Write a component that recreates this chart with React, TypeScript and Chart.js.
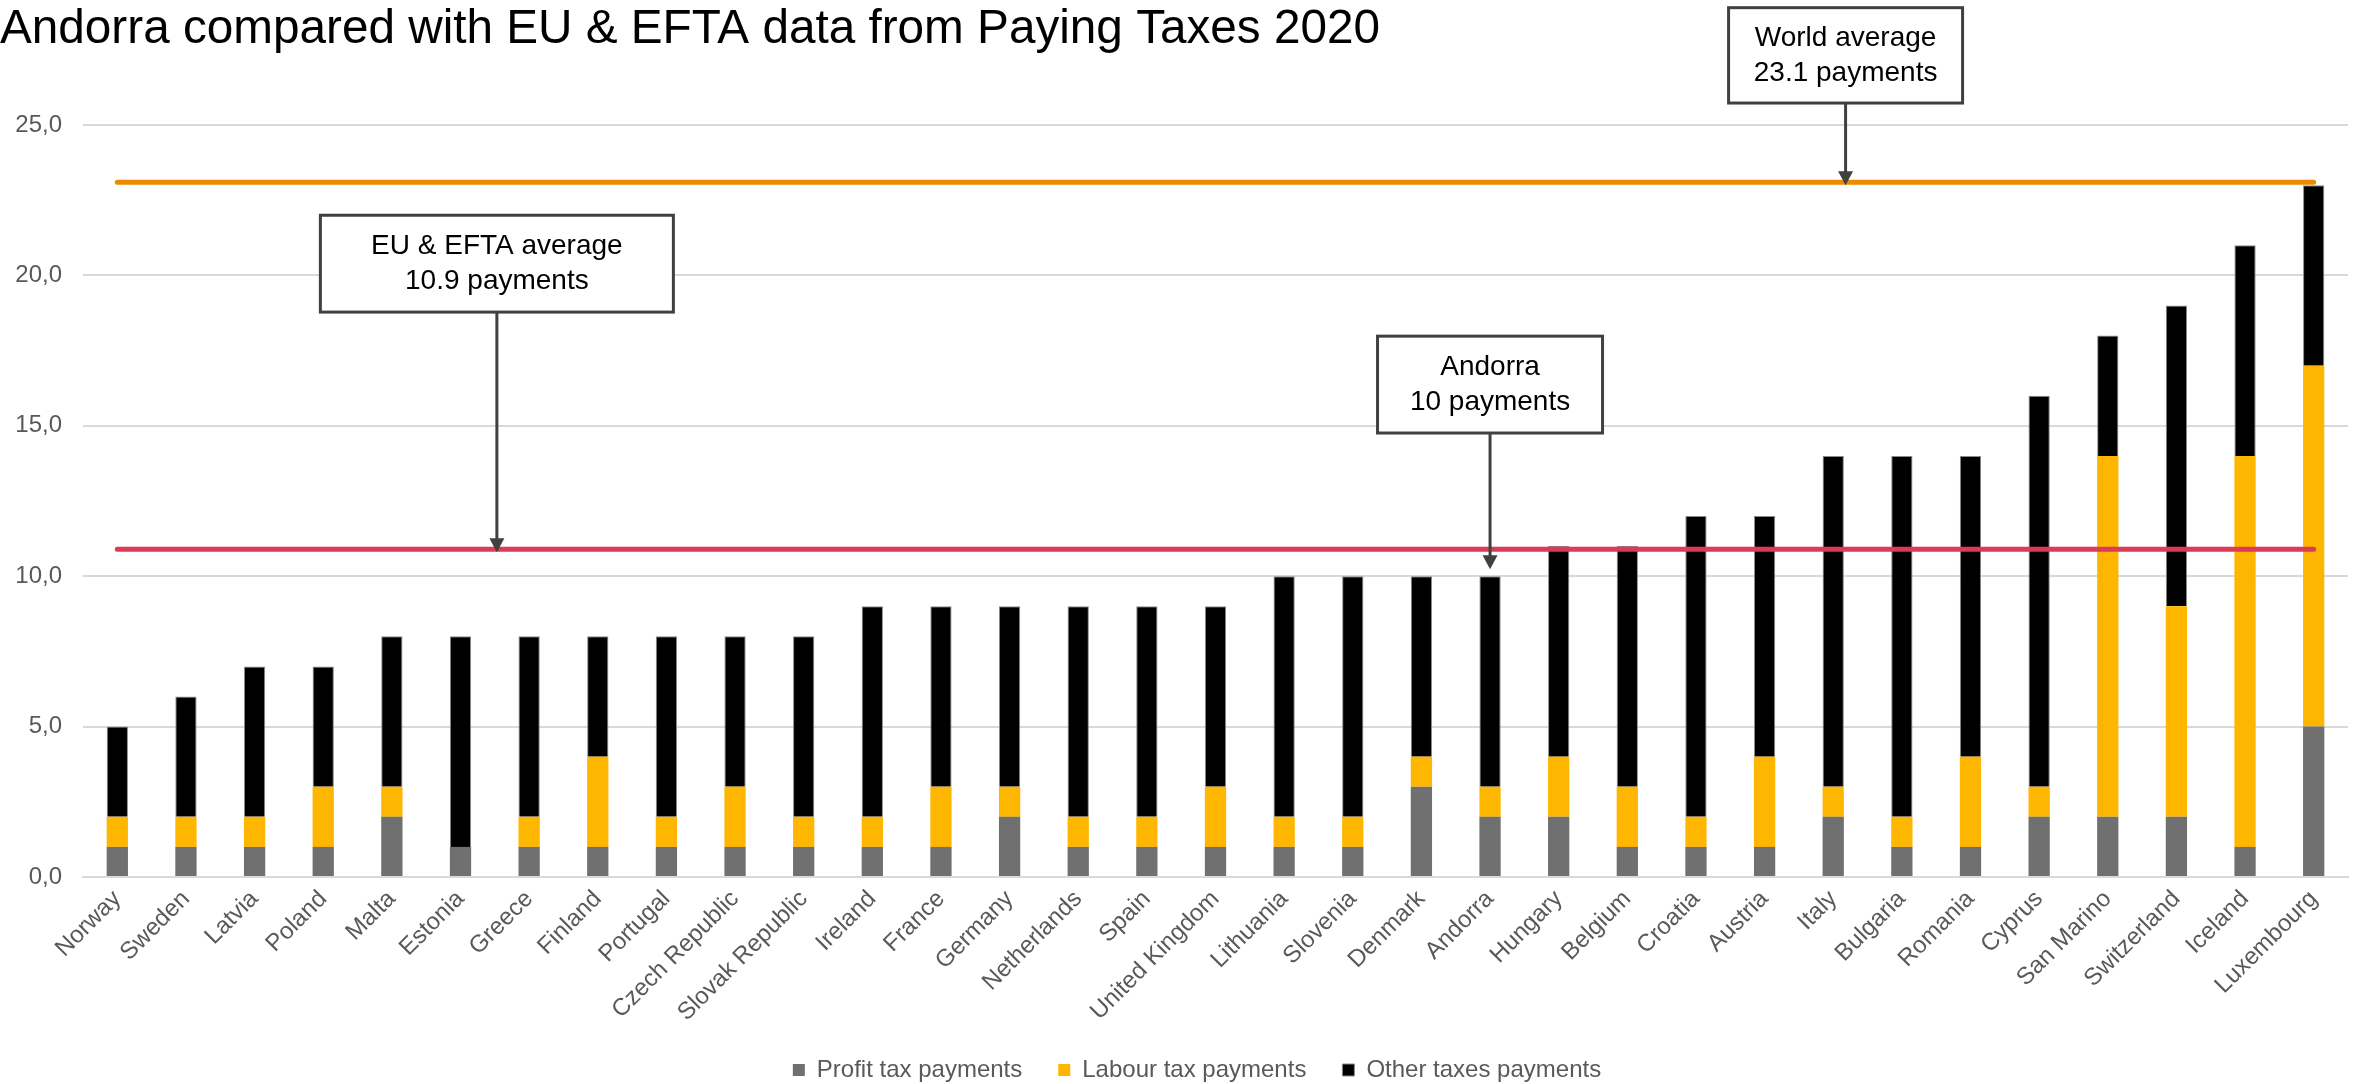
import React, { useEffect, useRef } from 'react';
import { Chart, registerables } from 'chart.js';

Chart.register(...registerables);

const TITLE = 'Andorra compared with EU & EFTA data from Paying Taxes 2020';

const countries = [
  'Norway', 'Sweden', 'Latvia', 'Poland', 'Malta', 'Estonia', 'Greece', 'Finland',
  'Portugal', 'Czech Republic', 'Slovak Republic', 'Ireland', 'France', 'Germany',
  'Netherlands', 'Spain', 'United Kingdom', 'Lithuania', 'Slovenia', 'Denmark',
  'Andorra', 'Hungary', 'Belgium', 'Croatia', 'Austria', 'Italy', 'Bulgaria',
  'Romania', 'Cyprus', 'San Marino', 'Switzerland', 'Iceland', 'Luxembourg',
];

const profitTax = [1, 1, 1, 1, 2, 1, 1, 1, 1, 1, 1, 1, 1, 2, 1, 1, 1, 1, 1, 3, 2, 2, 1, 1, 1, 2, 1, 1, 2, 2, 2, 1, 5];
const labourTax = [1, 1, 1, 2, 1, 0, 1, 3, 1, 2, 1, 1, 2, 1, 1, 1, 2, 1, 1, 1, 1, 2, 2, 1, 3, 1, 1, 3, 1, 12, 7, 13, 12];
const otherTaxes = [3, 4, 5, 4, 5, 7, 6, 4, 6, 5, 6, 7, 6, 6, 7, 7, 6, 8, 8, 6, 7, 7, 8, 10, 8, 11, 12, 10, 13, 4, 10, 7, 6];

const yMax = 25;
const yStep = 5;

const worldAverage = 23.1;
const euEftaAverage = 10.9;
const andorraPayments = 10;

const FONT = '"Liberation Sans", Arial, Helvetica, sans-serif';
const TEXT_GREY = '#595959';
const GRID_GREY = '#d9d9d9';

const referenceLines = [
  { value: worldAverage, color: '#eb8c00' },
  { value: euEftaAverage, color: '#db3a58' },
];

// Callout boxes: anchor along the category axis, box extent in value units,
// arrow tip offset in pixels above the target value.
const callouts = [
  {
    lines: ['EU & EFTA average', `${euEftaAverage} payments`],
    at: 5.53, tip: euEftaAverage, tipGap: -3, top: 22.0, bottom: 18.78, width: 353,
  },
  {
    lines: ['Andorra', `${andorraPayments} payments`],
    at: countries.indexOf('Andorra'), tip: andorraPayments, tipGap: 7, top: 17.98, bottom: 14.76, width: 225,
  },
  {
    lines: ['World average', `${worldAverage} payments`],
    at: 25.18, tip: worldAverage, tipGap: -3, top: 28.9, bottom: 25.73, width: 234,
  },
];

const titlePlugin = {
  id: 'plainTitle',
  beforeDraw(chart: any) {
    const { ctx } = chart;
    ctx.save();
    ctx.font = `47.7px ${FONT}`;
    ctx.fillStyle = '#000000';
    ctx.textAlign = 'left';
    ctx.textBaseline = 'alphabetic';
    ctx.fillText(TITLE, 0, 43);
    ctx.restore();
  },
};

// Nudge the legend row so it sits centred under the plot as in the layout.
const legendOffsetPlugin = {
  id: 'legendOffset',
  afterLayout(chart: any) {
    const lg = chart.legend;
    if (lg) {
      lg.left += 23;
      lg.right += 23;
    }
  },
};

const referencePlugin = {
  id: 'referenceCallouts',
  afterDatasetsDraw(chart: any) {
    const { ctx } = chart;
    const x = chart.scales.x;
    const y = chart.scales.y;
    const xStart = x.getPixelForValue(0);
    const xEnd = x.getPixelForValue(countries.length - 1);

    ctx.save();
    ctx.lineCap = 'round';
    ctx.lineWidth = 5;
    for (const ref of referenceLines) {
      const py = y.getPixelForValue(ref.value);
      ctx.strokeStyle = ref.color;
      ctx.beginPath();
      ctx.moveTo(xStart, py);
      ctx.lineTo(xEnd, py);
      ctx.stroke();
    }
    ctx.restore();
  },
  afterDraw(chart: any) {
    const { ctx } = chart;
    const x = chart.scales.x;
    const y = chart.scales.y;
    ctx.save();
    for (const c of callouts) {
      const cx = x.getPixelForValue(c.at);
      const top = y.getPixelForValue(c.top);
      const bottom = y.getPixelForValue(c.bottom);
      const tipY = y.getPixelForValue(c.tip) - c.tipGap;
      const head = 14;

      // arrow
      ctx.strokeStyle = '#404040';
      ctx.fillStyle = '#404040';
      ctx.lineWidth = 3;
      ctx.lineCap = 'butt';
      ctx.beginPath();
      ctx.moveTo(cx, bottom);
      ctx.lineTo(cx, tipY - head + 1);
      ctx.stroke();
      ctx.beginPath();
      ctx.moveTo(cx - 7.5, tipY - head);
      ctx.lineTo(cx + 7.5, tipY - head);
      ctx.lineTo(cx, tipY);
      ctx.closePath();
      ctx.fill();

      // box
      const left = cx - c.width / 2;
      ctx.fillStyle = '#ffffff';
      ctx.fillRect(left, top, c.width, bottom - top);
      ctx.lineWidth = 3;
      ctx.strokeStyle = '#404040';
      ctx.strokeRect(left, top, c.width, bottom - top);

      // text
      ctx.fillStyle = '#000000';
      ctx.font = `28px ${FONT}`;
      ctx.textAlign = 'center';
      ctx.textBaseline = 'middle';
      const mid = (top + bottom) / 2;
      const lh = 35;
      c.lines.forEach((t, i) => {
        ctx.fillText(t, cx, mid + (i - (c.lines.length - 1) / 2) * lh);
      });
    }
    ctx.restore();
  },
};

export default function App() {
  const canvasRef = useRef<HTMLCanvasElement | null>(null);

  useEffect(() => {
    const canvas = canvasRef.current;
    if (!canvas) return;
    const chart = new Chart(canvas, {
      type: 'bar',
      data: {
        labels: countries,
        datasets: [
          { label: 'Profit tax payments', data: profitTax, backgroundColor: '#707070' },
          { label: 'Labour tax payments', data: labourTax, backgroundColor: '#ffb600' },
          {
            label: 'Other taxes payments', data: otherTaxes, backgroundColor: '#000000',
            borderColor: '#8a8a8a', borderWidth: 1,
          },
        ],
      },
      options: {
        responsive: false,
        animation: false,
        devicePixelRatio: 1,
        datasets: { bar: { barPercentage: 0.31, categoryPercentage: 1 } },
        layout: { padding: { left: 0, right: 11, top: 125, bottom: -8 } },
        plugins: {
          title: { display: false },
          tooltip: { enabled: false },
          legend: {
            position: 'bottom',
            labels: {
              boxWidth: 12,
              boxHeight: 12,
              padding: 36,
              color: TEXT_GREY,
              font: { family: FONT, size: 24 },
            },
          },
        },
        scales: {
          x: {
            stacked: true,
            grid: { display: false, drawTicks: false },
            border: { display: true, color: GRID_GREY, width: 2 },
            ticks: {
              autoSkip: false,
              maxRotation: 45,
              minRotation: 45,
              padding: 8,
              color: TEXT_GREY,
              font: { family: FONT, size: 24 },
            },
            afterFit: (s: any) => { s.height = 145; },
          },
          y: {
            stacked: true,
            min: 0,
            max: yMax,
            border: { display: false },
            grid: { color: GRID_GREY, lineWidth: 2, drawTicks: false },
            ticks: {
              stepSize: yStep,
              padding: 21,
              color: TEXT_GREY,
              font: { family: FONT, size: 24 },
              callback: (v: any) => Number(v).toFixed(1).replace('.', ','),
            },
            afterFit: (s: any) => { s.width = 83; },
          },
        },
      } as any,
      plugins: [titlePlugin, legendOffsetPlugin, referencePlugin],
    });
    return () => chart.destroy();
  }, []);

  return (
    <div style={{ position: 'fixed', left: 0, top: 0, width: 2359, height: 1084, background: '#ffffff' }}>
      <canvas ref={canvasRef} width={2359} height={1084} style={{ display: 'block' }} />
    </div>
  );
}
